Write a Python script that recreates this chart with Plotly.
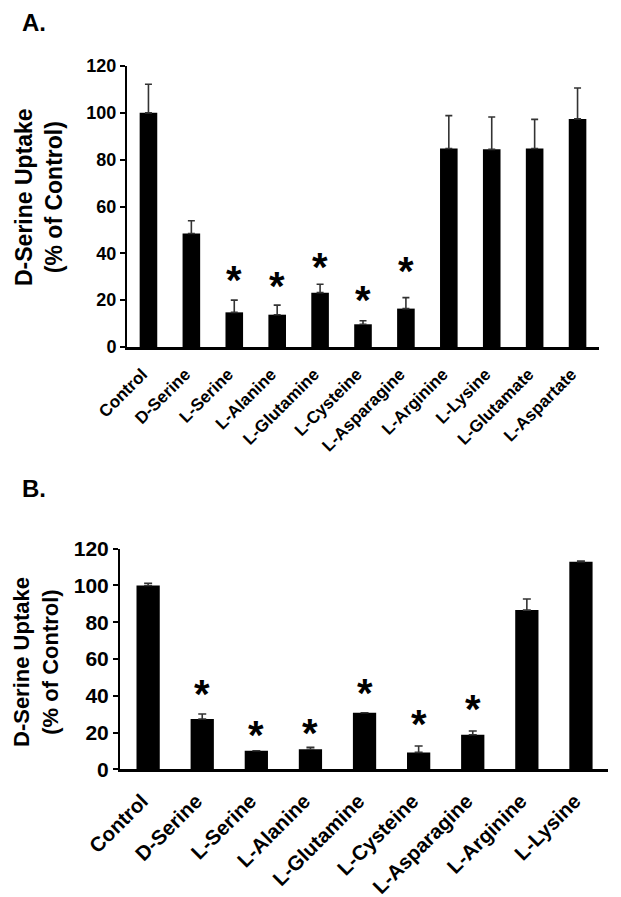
import plotly.graph_objects as go

W, H = 621, 897

# ---- Panel A data ----
a_cats = ["Control", "D-Serine", "L-Serine", "L-Alanine", "L-Glutamine", "L-Cysteine",
          "L-Asparagine", "L-Arginine", "L-Lysine", "L-Glutamate", "L-Aspartate"]
a_vals = [100, 48.5, 14.8, 13.8, 23.2, 9.7, 16.4, 84.8, 84.4, 84.8, 97.4]
a_err = [12.2, 5.4, 5.2, 4.1, 3.6, 1.5, 4.7, 14.0, 13.8, 12.4, 13.2]
a_star = [None, None, 31.5, 28.9, 37.1, 22.9, 35.4, None, None, None, None]

# ---- Panel B data ----
b_cats = ["Control", "D-Serine", "L-Serine", "L-Alanine", "L-Glutamine", "L-Cysteine",
          "L-Asparagine", "L-Arginine", "L-Lysine"]
b_vals = [100, 27.4, 10.1, 10.9, 30.8, 9.2, 18.8, 86.6, 112.9]
b_err = [1.2, 2.7, 0, 1.1, 0, 3.5, 2.0, 6.0, 0.4]
b_star = [None, 44.9, 22.3, 23.5, 45.3, 28.3, 36.8, None, None]

y_ticks = [0, 20, 40, 60, 80, 100, 120]

FONT = "Liberation Sans, Arial, sans-serif"


def px_x(p):
    return p / W


def px_y(p):
    return 1 - p / H


fig = go.Figure()

fig.add_trace(go.Bar(
    x=a_cats, y=a_vals, xaxis="x", yaxis="y", width=0.41,
    marker=dict(color="black", line=dict(width=0)),
    error_y=dict(type="data", array=a_err, arrayminus=[0] * len(a_err), symmetric=False,
                 color="#333333", thickness=1.6, width=3.5),
    showlegend=False, hoverinfo="x+y",
))
fig.add_trace(go.Bar(
    x=b_cats, y=b_vals, xaxis="x2", yaxis="y2", width=0.43,
    marker=dict(color="black", line=dict(width=0)),
    error_y=dict(type="data", array=b_err, arrayminus=[0] * len(b_err), symmetric=False,
                 color="#333333", thickness=1.6, width=4),
    showlegend=False, hoverinfo="x+y",
))

annotations = []
for c, s in zip(a_cats, a_star):
    if s is not None:
        annotations.append(dict(x=c, y=s, xref="x", yref="y", text="*", showarrow=False,
                                font=dict(family=FONT, size=40, color="black", weight="bold"),
                                yanchor="middle", yshift=-7))
for c, s in zip(b_cats, b_star):
    if s is not None:
        annotations.append(dict(x=c, y=s, xref="x2", yref="y2", text="*", showarrow=False,
                                font=dict(family=FONT, size=40, color="black", weight="bold"),
                                yanchor="middle", yshift=-7))

# panel letters
annotations.append(dict(x=px_x(20), y=px_y(7), xref="paper", yref="paper", text="A.",
                        showarrow=False, xanchor="left", yanchor="top",
                        font=dict(family=FONT, size=24, color="black", weight="bold")))
annotations.append(dict(x=px_x(20), y=px_y(473), xref="paper", yref="paper", text="B.",
                        showarrow=False, xanchor="left", yanchor="top",
                        font=dict(family=FONT, size=24, color="black", weight="bold")))

# y-axis titles
annotations.append(dict(x=px_x(39), y=px_y(197), xref="paper", yref="paper",
                        text="D-Serine Uptake<br>(% of Control)", textangle=-90,
                        showarrow=False, xanchor="center", yanchor="middle",
                        font=dict(family=FONT, size=23, color="black", weight="bold")))
annotations.append(dict(x=px_x(36), y=px_y(662), xref="paper", yref="paper",
                        text="D-Serine Uptake<br>(% of Control)", textangle=-90,
                        showarrow=False, xanchor="center", yanchor="middle",
                        font=dict(family=FONT, size=22, color="black", weight="bold")))

common_y = dict(range=[0, 120], tickvals=y_ticks, ticks="outside", ticklen=5, tickwidth=1.5,
                tickcolor="black", showline=True, linecolor="black", linewidth=2,
                showgrid=False, zeroline=False, fixedrange=True, automargin=False)

fig.update_layout(
    width=W, height=H,
    margin=dict(l=0, r=0, t=0, b=0, autoexpand=False),
    paper_bgcolor="white", plot_bgcolor="white",
    bargap=0.5,
    xaxis=dict(domain=[px_x(127), px_x(599)], anchor="y", range=[-0.5, 10.5],
               showline=True, linecolor="black", linewidth=2.5, ticks="",
               tickangle=-45, showgrid=False, automargin=False, fixedrange=True,
               ticklabelstandoff=8, ticklabelshift=-6,
               tickfont=dict(family=FONT, size=17, color="black", weight="bold")),
    yaxis=dict(domain=[px_y(347), px_y(66)], anchor="x",
               tickfont=dict(family=FONT, size=18, color="black", weight="bold"), **common_y),
    xaxis2=dict(domain=[px_x(120), px_x(608)], anchor="y2", range=[-0.52, 8.5],
                showline=True, linecolor="black", linewidth=2.5, ticks="",
                tickangle=-45, showgrid=False, automargin=False, fixedrange=True,
                ticklabelstandoff=9, ticklabelshift=-6,
                tickfont=dict(family=FONT, size=20.5, color="black", weight="bold")),
    yaxis2=dict(domain=[px_y(769.3), px_y(548.7)], anchor="x2",
                tickfont=dict(family=FONT, size=21, color="black", weight="bold"), **common_y),
    annotations=annotations,
)

fig.write_html("out.html", config={"displayModeBar": False},
               post_script="document.body.style.margin='0';document.body.style.overflow='hidden';")
